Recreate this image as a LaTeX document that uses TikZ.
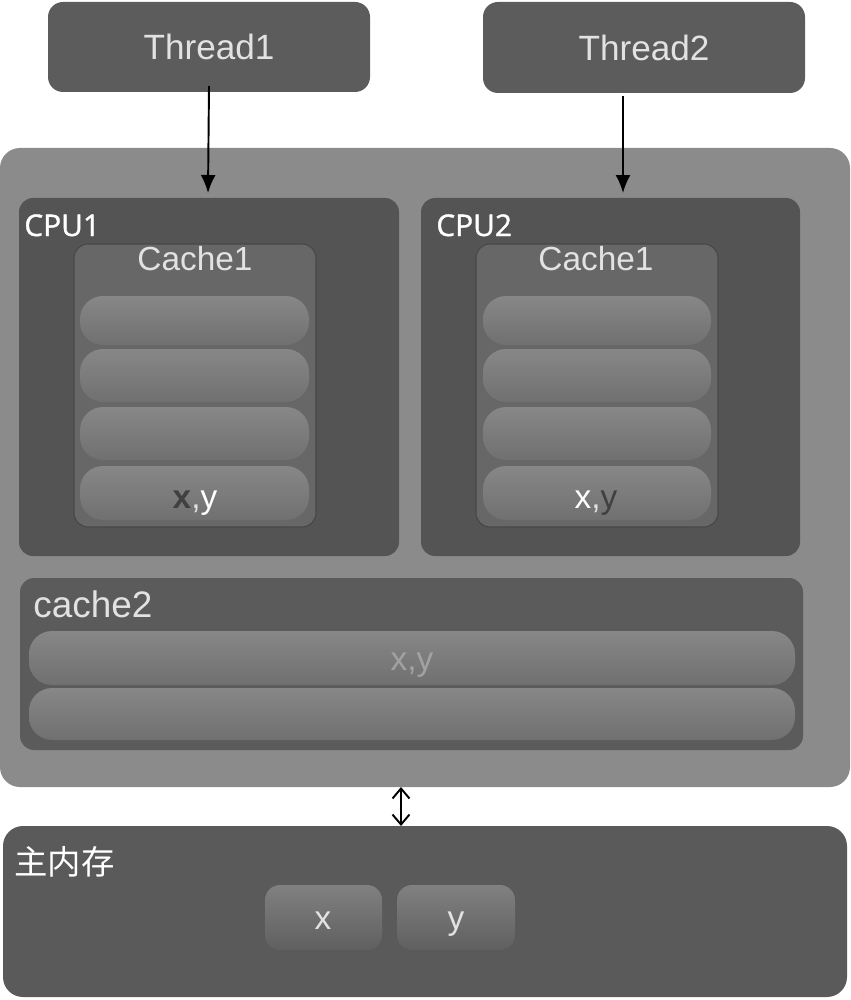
\documentclass[tikz,border=0pt]{standalone}
\usepackage{fontspec}
\setmainfont{Liberation Sans}
\newfontfamily\cpufont[FakeBold=1.2]{Open Sans}
\newfontfamily\cjk{Noto Sans CJK SC}
\usetikzlibrary{arrows.meta}
\definecolor{thrd}{HTML}{5C5C5C}
\definecolor{outerc}{HTML}{8B8B8B}
\definecolor{cpuc}{HTML}{545454}
\definecolor{cacheone}{HTML}{676767}
\definecolor{cacheedge}{HTML}{474747}
\definecolor{rowtop}{HTML}{878787}
\definecolor{rowbot}{HTML}{707070}
\definecolor{cachetwo}{HTML}{5B5B5B}
\definecolor{memc}{HTML}{5A5A5A}
\definecolor{vtop}{HTML}{808080}
\definecolor{vbot}{HTML}{606060}
\definecolor{lighttext}{HTML}{E2E2E2}
\definecolor{darktext}{HTML}{404040}
\definecolor{fainttext}{HTML}{A2A2A2}
\newcommand\mybox[6]{\node[#1, minimum width={(#5-#3)*0.02cm}, minimum height={(#6-#4)*0.02cm}] (#2) at ({(#3+#5)/2},{(#4+#6)/2}) {};}
\newcommand\fs[1]{\fontsize{#1}{#1}\selectfont}
\tikzset{
  base/.style={inner sep=0pt, outer sep=0pt, draw=none},
  threadbox/.style={base, fill=thrd, rounded corners=0.3cm},
  outerbox/.style={base, fill=outerc, rounded corners=0.4cm},
  cpubox/.style={base, fill=cpuc, rounded corners=0.28cm},
  cacheonebox/.style={base, fill=cacheone, draw=cacheedge, line width=0.6pt, rounded corners=0.28cm},
  rowbox/.style={base, top color=rowtop, bottom color=rowbot, rounded corners=0.46cm},
  cachetwobox/.style={base, fill=cachetwo, rounded corners=0.28cm},
  membox/.style={base, fill=memc, rounded corners=0.4cm},
  valbox/.style={base, top color=vtop, bottom color=vbot, rounded corners=0.3cm},
  txt/.style={inner sep=0pt, text=lighttext},
  conn/.style={black, line width=1.1pt}
}
\begin{document}
\begin{tikzpicture}[x=0.02cm, y=-0.02cm]
\useasboundingbox (0,0) rectangle (850,1000);
% threads
\mybox{threadbox}{t1}{48}{2}{370}{92}
\mybox{threadbox}{t2}{483}{2}{805}{93}
\node[txt, font=\fs{20}] (t1l) at (t1) {Thread1};
\node[txt, font=\fs{20}] (t2l) at (t2) {Thread2};
% outer cpu area
\mybox{outerbox}{outer}{0}{148}{850}{787}
% CPU1
\mybox{cpubox}{cpu1}{19}{198}{399}{556}
\node[txt, text=white, font=\cpufont\fs{17}, anchor=base west] (cpu1l) at (24,236) {CPU1};
\mybox{cacheonebox}{ca1}{74}{244}{316}{527}
\node[txt, font=\fs{19}, anchor=base] (ca1l) at (195,270) {Cache1};
\mybox{rowbox}{r11}{80}{296}{309}{345}
\mybox{rowbox}{r12}{80}{349}{309}{402}
\mybox{rowbox}{r13}{80}{407}{309}{460}
\mybox{rowbox}{r14}{80}{466}{309}{520}
\node[txt, font=\fs{19}, anchor=base] (r14l) at (195,508) {\textcolor{darktext}{\textbf{x}},\textcolor{white}{y}};
% CPU2
\mybox{cpubox}{cpu2}{421}{198}{800}{556}
\node[txt, text=white, font=\cpufont\fs{17}, anchor=base west] (cpu2l) at (436,236) {CPU2};
\mybox{cacheonebox}{ca2}{476}{244}{718}{527}
\node[txt, font=\fs{19}, anchor=base] (ca2l) at (596,270) {Cache1};
\mybox{rowbox}{r21}{483}{296}{711}{345}
\mybox{rowbox}{r22}{483}{349}{711}{402}
\mybox{rowbox}{r23}{483}{407}{711}{460}
\mybox{rowbox}{r24}{483}{466}{711}{520}
\node[txt, font=\fs{19}, anchor=base] (r24l) at (596,508) {\textcolor{white}{x},\textcolor{darktext}{y}};
% cache2
\mybox{cachetwobox}{c2}{20}{578}{803}{750}
\node[txt, font=\fs{21}, anchor=base west] (c2l) at (33,617) {cache2};
\mybox{rowbox}{c2r1}{29}{631}{795}{685}
\mybox{rowbox}{c2r2}{29}{688}{795}{740}
\node[txt, text=fainttext, font=\fs{19}, anchor=base] (c2xy) at (412,670) {x,y};
% main memory
\mybox{membox}{mem}{3}{826}{847}{997}
\node[txt, text=white, font=\cjk\fs{19}, anchor=base west] (meml) at (14,874) {主内存};
\mybox{valbox}{vx}{265}{885}{382}{950}
\mybox{valbox}{vy}{397}{885}{515}{950}
\node[txt, font=\fs{19}, anchor=base] (vxl) at (323,929) {x};
\node[txt, font=\fs{19}, anchor=base] (vyl) at (456,929) {y};
% connectors
\coordinate (a1) at (208,193);
\coordinate (a2) at (623,193);
\coordinate (a3) at (401,787);
\draw[conn, -{Latex[length=3.6mm,width=3mm]}] (t1.south) ++(0,-6) -- (a1);
\draw[conn, -{Latex[length=3.6mm,width=3mm]}] (t2.south -| a2) ++(0,3) -- (a2);
\draw[conn, {Straight Barb[length=2mm,width=3.4mm]}-{Straight Barb[length=2mm,width=3.4mm]}] (a3) -- (mem.north -| a3);
\end{tikzpicture}
\end{document}
